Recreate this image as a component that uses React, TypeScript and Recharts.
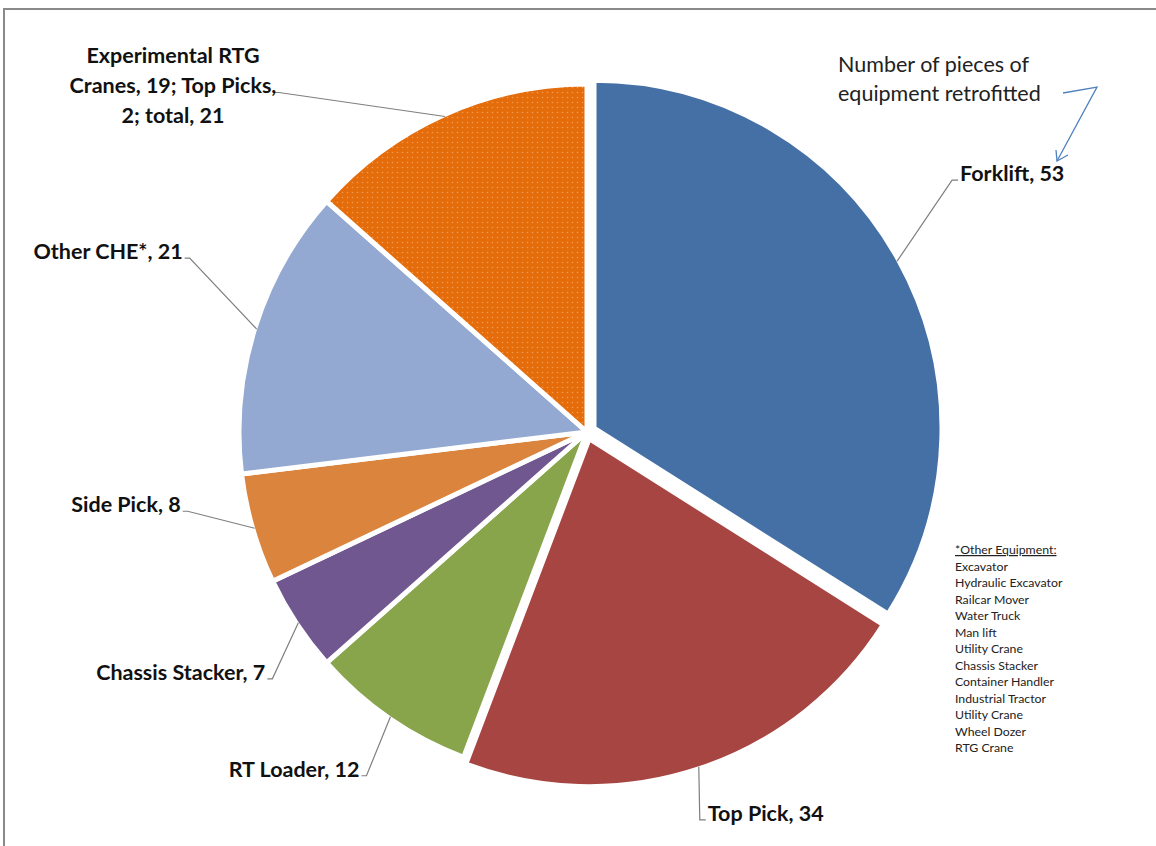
import React from "react";
import { PieChart, Pie, Cell, Sector } from "recharts";

const categories = [
  "Forklift",
  "Top Pick",
  "RT Loader",
  "Chassis Stacker",
  "Side Pick",
  "Other CHE*",
  "Experimental RTG Cranes",
];
const values = [53, 34, 12, 7, 8, 21, 21];
const labelTexts = [
  ["Forklift, 53"],
  ["Top Pick, 34"],
  ["RT Loader, 12"],
  ["Chassis Stacker, 7"],
  ["Side Pick, 8"],
  ["Other CHE*, 21"],
  ["Experimental RTG", "Cranes, 19; Top Picks,", "2; total, 21"],
];
const otherEquipment = [
  "Excavator",
  "Hydraulic Excavator",
  "Railcar Mover",
  "Water Truck",
  "Man lift",
  "Utility Crane",
  "Chassis Stacker",
  "Container Handler",
  "Industrial Tractor",
  "Utility Crane",
  "Wheel Dozer",
  "RTG Crane",
];

const colors = ["#4570A5", "#A64541", "#88A54C", "#71578F", "#DA843E", "#93A9D1", "url(#dots)"];
const explode = [8, 7, 0, 0, 0, 0, 0];

// label layout: offset of the leader elbow from the slice edge point, text side
const labelLayout = [
  { ex: 55, ey: -81, side: "right" },
  { ex: 1, ey: 53, side: "right" },
  { ex: -24, ey: 59, side: "left" },
  { ex: -26, ey: 56, side: "left" },
  { ex: -67, ey: -17, side: "left" },
  { ex: -67, ey: -71, side: "left" },
  { ex: -166, ey: -24, side: "left" },
];

const data = categories.map((c, i) => ({ name: c, value: values[i] }));
const RAD = Math.PI / 180;
const FONT = "Lato, 'Open Sans', sans-serif";

const renderShape = (props: any) => {
  const i = props.index ?? data.findIndex((d) => d.name === props.name);
  const d = explode[i] || 0;
  const mid = (props.startAngle + props.endAngle) / 2;
  const cx = props.cx + d * Math.cos(-mid * RAD);
  const cy = props.cy + d * Math.sin(-mid * RAD);
  return <Sector {...props} cx={cx} cy={cy} />;
};

const renderLabel = (props: any) => {
  const { cx, cy, midAngle, outerRadius, index } = props;
  const d = explode[index] || 0;
  const r = outerRadius + d - 2;
  const px = cx + r * Math.cos(-midAngle * RAD);
  const py = cy + r * Math.sin(-midAngle * RAD);
  const lay = labelLayout[index];
  const exx = px + lay.ex;
  const eyy = py + lay.ey;
  const lines = labelTexts[index];
  const right = lay.side === "right";
  const multi = lines.length > 1;
  const tx = multi ? exx - 106 : right ? exx + 8 : exx - 7;
  const lh = 30;
  const firstY = multi ? eyy + 1 - lh : eyy + 1;
  return (
    <g key={"lbl" + index}>
      <polyline
        points={`${px},${py} ${exx},${eyy} ${right ? exx + 6 : exx - 5},${eyy}`}
        fill="none"
        stroke="#7f7f7f"
        strokeWidth={1.2}
      />
      <text
        x={tx}
        y={firstY}
        textAnchor={multi ? "middle" : right ? "start" : "end"}
        fontFamily={FONT}
        fontWeight={700}
        fontSize={21.5}
        fill="#111"
      >
        {lines.map((l, k) => (
          <tspan key={k} x={tx} dy={k === 0 ? 0 : lh}>
            {l}
          </tspan>
        ))}
      </text>
    </g>
  );
};

export default function App() {
  return (
    <div style={{ position: "fixed", left: 0, top: 0, width: 1156, height: 846, overflow: "hidden", background: "#fff" }}>
      <div
        style={{
          position: "absolute",
          left: 3,
          top: 8,
          width: 1200,
          height: 900,
          border: "2px solid #8a8a8a",
          boxSizing: "border-box",
        }}
      />
      <div style={{ position: "absolute", left: 0, top: 0 }}>
        <PieChart width={1156} height={846}>
          <defs>
            <pattern id="dots" width="5" height="5" patternUnits="userSpaceOnUse">
              <rect width="5" height="5" fill="#E46C0A" />
              <circle cx="2.5" cy="2.5" r="0.8" fill="#F29B50" />
            </pattern>
          </defs>
          <Pie
            data={data}
            dataKey="value"
            nameKey="name"
            cx={582}
            cy={427}
            outerRadius={348}
            startAngle={90}
            endAngle={-270}
            stroke="#ffffff"
            strokeWidth={5}
            isAnimationActive={false}
            label={renderLabel}
            labelLine={false}
            shape={renderShape}
          >
            {data.map((d, i) => (
              <Cell key={d.name} fill={colors[i]} />
            ))}
          </Pie>
          <text x={838} y={72} fontFamily={FONT} fontSize={21.5} fill="#222">
            Number of pieces of
          </text>
          <text x={838} y={101} fontFamily={FONT} fontSize={21.5} fill="#222">
            equipment retrofitted
          </text>
          <polyline points="1063,93 1097,87 1057,161" fill="none" stroke="#4F81BD" strokeWidth={1.3} />
          <polyline points="1056,150 1057,161 1068,155" fill="none" stroke="#4F81BD" strokeWidth={1.3} />
          <text x={955} y={554} fontFamily={FONT} fontSize={12.3} fill="#222" textDecoration="underline">
            *Other Equipment:
          </text>
          {otherEquipment.map((e, i) => (
            <text key={i} x={955} y={570.5 + i * 16.5} fontFamily={FONT} fontSize={12.3} fill="#222">
              {e}
            </text>
          ))}
        </PieChart>
      </div>
    </div>
  );
}
